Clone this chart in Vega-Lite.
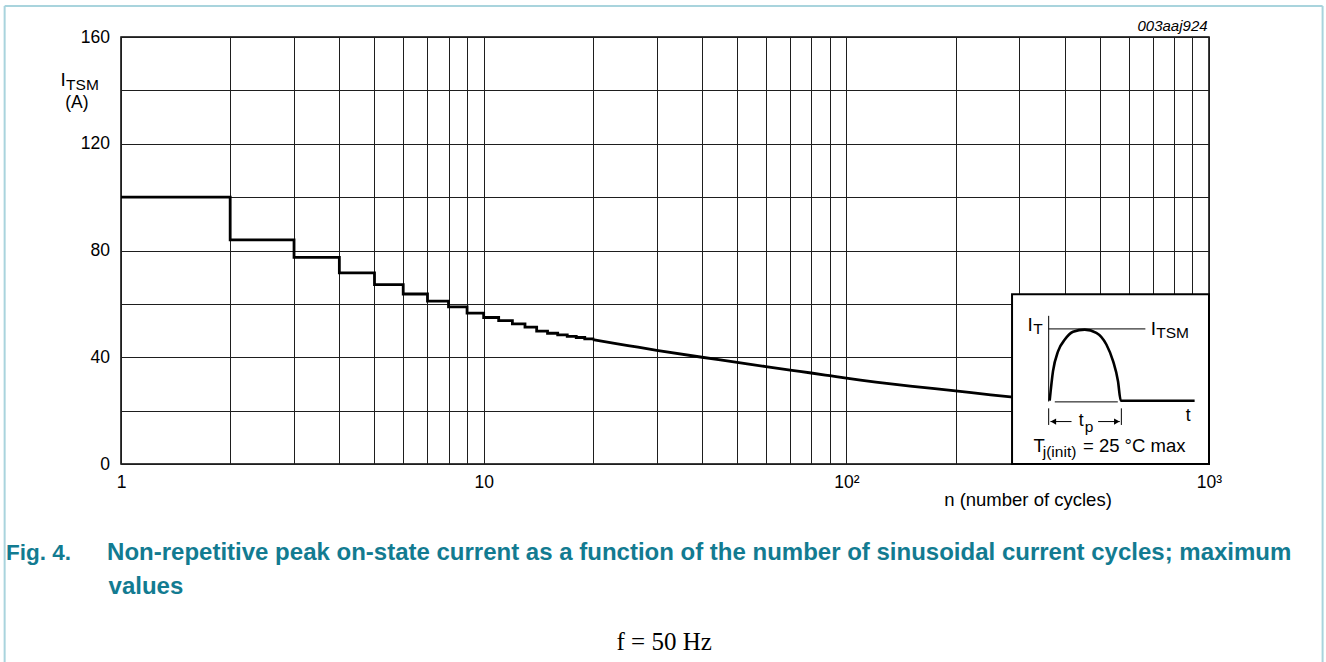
{
  "$schema": "https://vega.github.io/schema/vega-lite/v6.json",
  "width": 1088,
  "height": 427,
  "autosize": {"type": "none"},
  "padding": {"left": 121, "top": 37, "right": 117, "bottom": 198},
  "background": "#ffffff",
  "config": {
    "font": "Liberation Sans",
    "view": {"stroke": "#000000", "strokeWidth": 1.5}
  },
  "datasets": {
    "steps": [
      {"n": 1, "I": 100}, {"n": 2, "I": 84.0}, {"n": 3, "I": 77.4}, {"n": 4, "I": 71.6},
      {"n": 5, "I": 67.2}, {"n": 6, "I": 63.7}, {"n": 7, "I": 61.0}, {"n": 8, "I": 58.9},
      {"n": 9, "I": 56.5}, {"n": 10, "I": 54.9}, {"n": 11, "I": 53.7}, {"n": 12, "I": 52.5},
      {"n": 13, "I": 51.3}, {"n": 14, "I": 49.8}, {"n": 15, "I": 49.0}, {"n": 16, "I": 48.4},
      {"n": 17, "I": 47.8}, {"n": 18, "I": 47.4}, {"n": 19, "I": 46.9}, {"n": 20, "I": 46.6}
    ],
    "tail": [
      {"n": 20, "I": 46.6}, {"n": 25, "I": 44.4}, {"n": 30, "I": 42.6}, {"n": 40, "I": 40.0},
      {"n": 50, "I": 38.1}, {"n": 60, "I": 36.5}, {"n": 70, "I": 35.2}, {"n": 80, "I": 34.1},
      {"n": 90, "I": 33.1}, {"n": 100, "I": 32.2}, {"n": 150, "I": 29.2}, {"n": 200, "I": 27.4},
      {"n": 250, "I": 25.9}, {"n": 300, "I": 24.8}, {"n": 400, "I": 23.3}
    ],
    "frame": [
      {"n": 0.4777, "I": 171.6, "n2": 0.4777, "I2": -74.5},
      {"n": 0.4777, "I": 171.6, "n2": 2057, "I2": 171.6},
      {"n": 2057, "I": 171.6, "n2": 2057, "I2": -74.5}
    ],
    "labels": [
      {"role": "ytitle-big", "n": 0.6806, "I": 144.0, "text": "I"},
      {"role": "ytitle-sub", "n": 0.7058, "I": 141.9, "text": "TSM"},
      {"role": "ytitle", "n": 0.7019, "I": 135.2, "text": "(A)"},
      {"role": "code", "n": 991, "I": 164.0, "text": "003aaj924"},
      {"role": "fig", "n": 0.4822, "I": -33.4, "text": "Fig. 4."},
      {"role": "caption", "n": 0.9155, "I": -33.4, "text": "Non-repetitive peak on-state current as a function of the number of sinusoidal current cycles; maximum"},
      {"role": "caption", "n": 0.924, "I": -46.1, "text": "values"},
      {"role": "note", "n": 31.45, "I": -66.7, "text": "f = 50 Hz"}
    ],
    "inset_box": [{"u": 0, "u2": 100, "v": 0, "v2": 100}],
    "inset_thin": [
      {"u": 18.6, "u2": 18.6, "v": 36.8, "v2": 87.3},
      {"u": 18.6, "u2": 67.7, "v": 79.6, "v2": 79.6},
      {"u": 21.7, "u2": 53.7, "v": 36.6, "v2": 36.6},
      {"u": 18.6, "u2": 18.6, "v": 23.0, "v2": 32.8},
      {"u": 55.5, "u2": 55.5, "v": 23.0, "v2": 32.8},
      {"u": 19.5, "u2": 30.2, "v": 25.0, "v2": 25.0},
      {"u": 43.7, "u2": 54.7, "v": 25.0, "v2": 25.0}
    ],
    "inset_wave": [
      {"u": 19.1, "v": 37.3}, {"u": 20.8, "v": 54.7}, {"u": 23.4, "v": 66.5}, {"u": 26.8, "v": 73.3},
      {"u": 31.0, "v": 77.9}, {"u": 36.9, "v": 79.2}, {"u": 42.8, "v": 77.3}, {"u": 47.9, "v": 70.4},
      {"u": 51.3, "v": 60.6}, {"u": 53.8, "v": 48.8}, {"u": 55.2, "v": 37.3}, {"u": 92.7, "v": 37.3}
    ],
    "inset_heads": [
      {"u": 21.0, "v": 25.0, "dir": "left"},
      {"u": 53.2, "v": 25.0, "dir": "right"}
    ],
    "inset_text": [
      {"role": "big", "u": 7.8, "v": 82.0, "text": "I"},
      {"role": "sub", "u": 10.8, "v": 79.3, "text": "T"},
      {"role": "big", "u": 70.4, "v": 79.6, "text": "I"},
      {"role": "sub", "u": 73.2, "v": 77.1, "text": "TSM"},
      {"role": "mid", "u": 89.4, "v": 28.3, "text": "t"},
      {"role": "mid", "u": 35.1, "v": 25.1, "text": "t"},
      {"role": "sub", "u": 36.9, "v": 22.0, "text": "p"},
      {"role": "norm", "u": 10.9, "v": 10.8, "text": "T"},
      {"role": "sub", "u": 15.6, "v": 7.0, "text": "j(init)"},
      {"role": "norm", "u": 36.0, "v": 10.8, "text": "= 25 °C max"}
    ]
  },
  "layer": [
    {
      "encoding": {
        "x": {
          "field": "n", "type": "quantitative",
          "scale": {"type": "log", "domain": [1, 1000], "nice": false},
          "axis": {
            "values": [1, 2, 3, 4, 5, 6, 7, 8, 9, 10, 20, 30, 40, 50, 60, 70, 80, 90, 100, 200, 300, 400, 500, 600, 700, 800, 900, 1000],
            "labelExpr": "datum.value==1?'1':datum.value==10?'10':datum.value==100?'10²':datum.value==1000?'10³':''",
            "grid": true, "gridColor": "#1e1e1e", "gridWidth": 1,
            "ticks": false, "tickSize": 0, "domain": false,
            "labelFontSize": 17.5, "labelColor": "#000000", "labelPadding": 9.5,
            "labelOverlap": false, "labelFlush": false, "labelBound": false,
            "title": "n (number of cycles)", "titleFontSize": 18.5, "titleFontWeight": "normal",
            "titleColor": "#000000", "titleX": 906.5, "titleY": 35, "titleBaseline": "middle", "titleAlign": "center"
          }
        },
        "y": {
          "field": "I", "type": "quantitative",
          "scale": {"domain": [0, 160], "nice": false, "zero": false},
          "axis": {
            "values": [0, 20, 40, 60, 80, 100, 120, 140, 160],
            "labelExpr": "datum.value % 40 == 0 ? datum.label : ''",
            "grid": true, "gridColor": "#1e1e1e", "gridWidth": 1,
            "ticks": false, "tickSize": 0, "domain": false,
            "labelFontSize": 17.5, "labelColor": "#000000", "labelPadding": 11.5,
            "labelOverlap": false, "labelFlush": false, "labelBound": false,
            "title": null
          }
        }
      },
      "layer": [
        {"data": {"name": "steps"}, "mark": {"type": "line", "interpolate": "step-after", "color": "#000000", "strokeWidth": 2.8}},
        {"data": {"name": "tail"}, "mark": {"type": "line", "interpolate": "monotone", "color": "#000000", "strokeWidth": 2.8}},
        {"data": {"name": "frame"}, "mark": {"type": "rule", "color": "#a9d4dd", "strokeWidth": 2},
         "encoding": {"x2": {"field": "n2"}, "y2": {"field": "I2"}}},
        {"data": {"name": "labels"}, "transform": [{"filter": "datum.role == 'ytitle-big'"}],
         "mark": {"type": "text", "align": "left", "baseline": "middle", "fontSize": 19, "color": "#000000"},
         "encoding": {"text": {"field": "text"}}},
        {"data": {"name": "labels"}, "transform": [{"filter": "datum.role == 'ytitle-sub'"}],
         "mark": {"type": "text", "align": "left", "baseline": "middle", "fontSize": 15.5, "color": "#000000"},
         "encoding": {"text": {"field": "text"}}},
        {"data": {"name": "labels"}, "transform": [{"filter": "datum.role == 'ytitle'"}],
         "mark": {"type": "text", "align": "left", "baseline": "middle", "fontSize": 17.5, "color": "#000000"},
         "encoding": {"text": {"field": "text"}}},
        {"data": {"name": "labels"}, "transform": [{"filter": "datum.role == 'code'"}],
         "mark": {"type": "text", "align": "right", "baseline": "middle", "fontSize": 15, "fontStyle": "italic", "color": "#000000"},
         "encoding": {"text": {"field": "text"}}},
        {"data": {"name": "labels"}, "transform": [{"filter": "datum.role == 'fig'"}],
         "mark": {"type": "text", "align": "left", "baseline": "middle", "fontSize": 22.5, "fontWeight": "bold", "color": "#127b91"},
         "encoding": {"text": {"field": "text"}}},
        {"data": {"name": "labels"}, "transform": [{"filter": "datum.role == 'caption'"}],
         "mark": {"type": "text", "align": "left", "baseline": "middle", "fontSize": 24, "fontWeight": "bold", "color": "#127b91"},
         "encoding": {"text": {"field": "text"}}},
        {"data": {"name": "labels"}, "transform": [{"filter": "datum.role == 'note'"}],
         "mark": {"type": "text", "align": "center", "baseline": "middle", "fontSize": 25, "font": "Liberation Serif", "color": "#000000"},
         "encoding": {"text": {"field": "text"}}}
      ]
    },
    {
      "encoding": {
        "x": {"field": "u", "type": "quantitative", "scale": {"domain": [-452.4, 100], "nice": false, "zero": false}, "axis": null},
        "y": {"field": "v", "type": "quantitative", "scale": {"domain": [0, 251.6], "nice": false, "zero": false}, "axis": null}
      },
      "layer": [
        {"data": {"name": "inset_box"}, "mark": {"type": "rect", "fill": "#ffffff", "stroke": "#000000", "strokeWidth": 2},
         "encoding": {"x2": {"field": "u2"}, "y2": {"field": "v2"}}},
        {"data": {"name": "inset_thin"}, "mark": {"type": "rule", "color": "#000000", "strokeWidth": 1},
         "encoding": {"x2": {"field": "u2"}, "y2": {"field": "v2"}}},
        {"data": {"name": "inset_wave"}, "mark": {"type": "line", "interpolate": "monotone", "color": "#000000", "strokeWidth": 2.6}},
        {"data": {"name": "inset_heads"}, "mark": {"type": "point", "filled": true, "opacity": 1, "color": "#000000", "size": 40},
         "encoding": {"shape": {"field": "dir", "type": "nominal", "scale": {"domain": ["left", "right"], "range": ["triangle-left", "triangle-right"]}, "legend": null}}},
        {"data": {"name": "inset_text"}, "transform": [{"filter": "datum.role == 'big'"}],
         "mark": {"type": "text", "align": "left", "baseline": "middle", "fontSize": 19, "color": "#000000"},
         "encoding": {"text": {"field": "text"}}},
        {"data": {"name": "inset_text"}, "transform": [{"filter": "datum.role == 'norm'"}],
         "mark": {"type": "text", "align": "left", "baseline": "middle", "fontSize": 18.5, "color": "#000000"},
         "encoding": {"text": {"field": "text"}}},
        {"data": {"name": "inset_text"}, "transform": [{"filter": "datum.role == 'sub'"}],
         "mark": {"type": "text", "align": "left", "baseline": "middle", "fontSize": 15.5, "color": "#000000"},
         "encoding": {"text": {"field": "text"}}},
        {"data": {"name": "inset_text"}, "transform": [{"filter": "datum.role == 'mid'"}],
         "mark": {"type": "text", "align": "center", "baseline": "middle", "fontSize": 17.5, "color": "#000000"},
         "encoding": {"text": {"field": "text"}}}
      ]
    }
  ],
  "resolve": {"scale": {"x": "independent", "y": "independent"}}
}
